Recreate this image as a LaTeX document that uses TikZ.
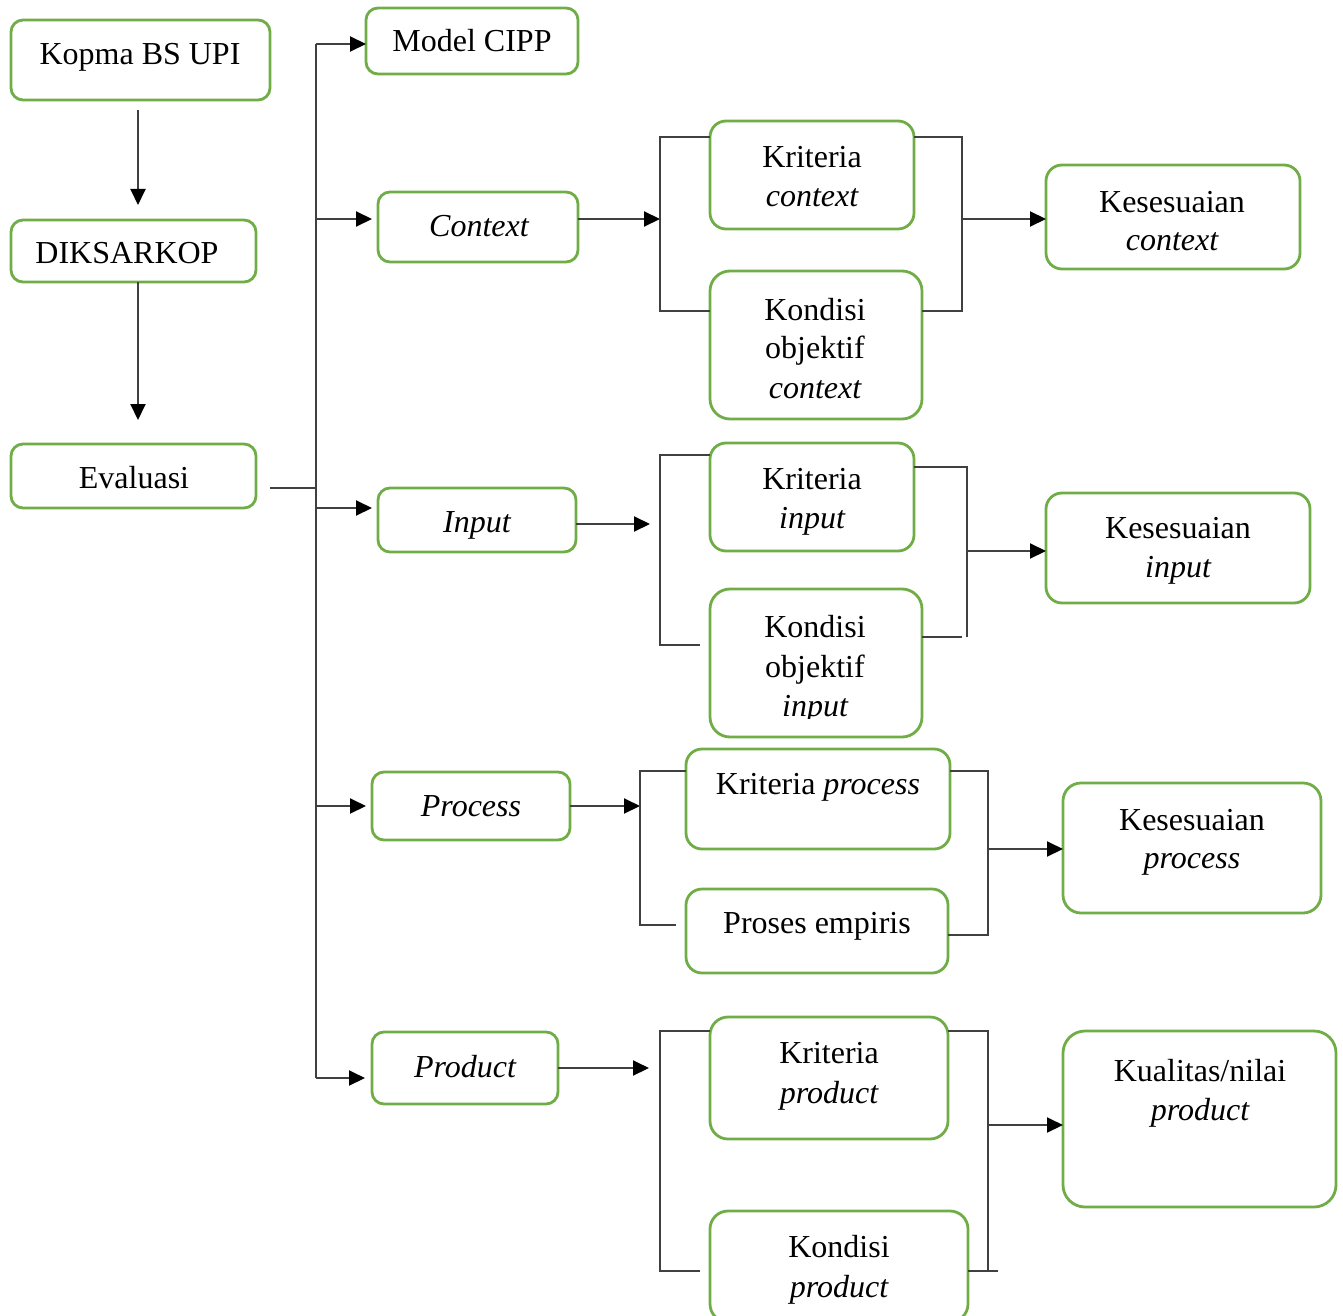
\documentclass[tikz,border=0pt]{standalone}
\usepackage{fontspec}
\setmainfont{Liberation Serif}
\usetikzlibrary{arrows.meta,calc}
\definecolor{grn}{HTML}{70AD47}
\definecolor{lnc}{HTML}{404040}
\begin{document}
\begin{tikzpicture}[x=1pt,y=-1pt,
  bx/.style={draw=grn, fill=white, line width=2.8pt, rounded corners=#1, outer sep=0pt, inner sep=0pt},
  bx/.default=12pt,
  tx/.style={font=\fontsize{32}{39}\selectfont, inner sep=0pt, outer sep=0pt, anchor=base},
  ln/.style={draw=lnc, line width=2pt},
  arr/.style={ln, -{Triangle[length=16pt,width=15pt,color=black]}}]
\useasboundingbox (0,0) rectangle (1343,1316);

% ---------- coordinates for connectors ----------
\coordinate (ax) at (138,0);
\coordinate (tmid) at (316,488);
\coordinate (ttop) at (316,44);
\coordinate (tbot) at (316,1078);
\coordinate (t2) at (316,219);
\coordinate (t3) at (316,508);
\coordinate (t4) at (316,806);
\coordinate (cL1) at (660,137); \coordinate (cL2) at (660,311); \coordinate (cLm) at (660,219);
\coordinate (cR1) at (962,137); \coordinate (cR2) at (962,311); \coordinate (cRm) at (962,219);
\coordinate (iL1) at (660,455); \coordinate (iL2) at (660,645); \coordinate (iLm) at (650,524);
\coordinate (iR1) at (967,467); \coordinate (iR2) at (967,637); \coordinate (iRm) at (967,551);
\coordinate (pL1) at (640,771); \coordinate (pL2) at (640,925); \coordinate (pLm) at (640,806);
\coordinate (pR1) at (988,771); \coordinate (pR2) at (988,935); \coordinate (pRm) at (988,849);
\coordinate (dL1) at (660,1031); \coordinate (dL2) at (660,1271); \coordinate (dLm) at (649,1068);
\coordinate (dR1) at (988,1031); \coordinate (dR2) at (988,1271); \coordinate (dRe) at (998,1271); \coordinate (dRm) at (988,1125);

% ---------- boxes ----------
\node[bx, minimum width=259pt, minimum height=80pt] (kopma) at (140.5,60) {};
\node[bx, minimum width=212pt, minimum height=66pt] (mcipp) at (472,41) {};
\node[bx, minimum width=245pt, minimum height=62pt] (diks) at (133.5,251) {};
\node[bx, minimum width=200pt, minimum height=70pt] (ctx) at (478,227) {};
\node[bx, minimum width=245pt, minimum height=64pt] (eva) at (133.5,476) {};
\node[bx, minimum width=198pt, minimum height=64pt] (inp) at (477,520) {};
\node[bx, minimum width=198pt, minimum height=68pt] (proc) at (471,806) {};
\node[bx, minimum width=186pt, minimum height=72pt] (prod) at (465,1068) {};

\node[bx=16pt, minimum width=204pt, minimum height=108pt] (kc) at (812,175) {};
\node[bx=20pt, minimum width=212pt, minimum height=148pt] (koc) at (816,345) {};
\node[bx=16pt, minimum width=254pt, minimum height=104pt] (kesc) at (1173,217) {};

\node[bx=16pt, minimum width=204pt, minimum height=108pt] (ki) at (812,497) {};
\node[bx=20pt, minimum width=212pt, minimum height=148pt] (koi) at (816,663) {};
\node[bx=16pt, minimum width=264pt, minimum height=110pt] (kesi) at (1178,548) {};

\node[bx=16pt, minimum width=264pt, minimum height=100pt] (kp) at (818,799) {};
\node[bx=16pt, minimum width=262pt, minimum height=84pt] (pe) at (817,931) {};
\node[bx=18pt, minimum width=258pt, minimum height=130pt] (kesp) at (1192,848) {};

\node[bx=18pt, minimum width=238pt, minimum height=122pt] (kpr) at (829,1078) {};
\node[bx=18pt, minimum width=258pt, minimum height=111pt] (kopr) at (839,1266.5) {};
\node[bx=22pt, minimum width=273pt, minimum height=176pt] (kual) at (1199.5,1119) {};

% ---------- connectors ----------
\draw[arr, shorten <=10pt, shorten >=15pt] (kopma.south -| ax) -- (diks.north -| ax);
\draw[arr, shorten >=24pt] (diks.south -| ax) -- (eva.north -| ax);
\draw[ln, shorten <=14pt] (eva.east |- tmid) -- (tmid);
\draw[ln] (ttop) -- (tbot);
\draw[arr] (ttop) -- (ttop -| mcipp.west);
\draw[arr, shorten >=6pt] (t2) -- (t2 -| ctx.west);
\draw[arr, shorten >=6pt] (t3) -- (t3 -| inp.west);
\draw[arr, shorten >=6pt] (t4) -- (t4 -| proc.west);
\draw[arr, shorten >=7pt] (tbot) -- (tbot -| prod.west);

% context
\draw[arr] (ctx.east |- cLm) -- (cLm);
\draw[ln] (kc.west |- cL1) -- (cL1) -- (cL2) -- (koc.west |- cL2);
\draw[ln] (kc.east |- cR1) -- (cR1) -- (cR2) -- (koc.east |- cR2);
\draw[arr] (cRm) -- (cRm -| kesc.west);

% input
\draw[arr] (inp.east |- iLm) -- (iLm);
\draw[ln] (ki.west |- iL1) -- (iL1) -- (iL2) -- ([xshift=-10pt]koi.west |- iL2);
\draw[ln] (ki.east |- iR1) -- (iR1) -- (iR2);
\draw[ln] (koi.east |- iR2) -- ([xshift=-5pt]iR2);
\draw[arr] (iRm) -- (iRm -| kesi.west);

% process
\draw[arr] (proc.east |- pLm) -- (pLm);
\draw[ln] (kp.west |- pL1) -- (pL1) -- (pL2) -- ([xshift=-10pt]pe.west |- pL2);
\draw[ln] (kp.east |- pR1) -- (pR1) -- (pR2) -- (pe.east |- pR2);
\draw[arr] (pRm) -- (pRm -| kesp.west);

% product
\draw[arr] (prod.east |- dLm) -- (dLm);
\draw[ln] (kpr.west |- dL1) -- (dL1) -- (dL2) -- ([xshift=-10pt]kopr.west |- dL2);
\draw[ln] (kpr.east |- dR1) -- (dR1) -- (dR2);
\draw[ln] (kopr.east |- dR2) -- (dRe);
\draw[arr] (dRm) -- (dRm -| kual.west);

% ---------- texts ----------
\node[tx] (kopma-t) at (140,65) {Kopma BS UPI};
\node[tx] (mcipp-t) at (472,52) {Model CIPP};
\node[tx] (diks-t) at (127,263) {DIKSARKOP};
\node[tx] (ctx-t) at (479,236) {\itshape Context};
\node[tx] (eva-t) at (134,488) {Evaluasi};
\node[tx] (inp-t) at (477,532) {\itshape Input};
\node[tx] (proc-t) at (471,816) {\itshape Process};
\node[tx] (prod-t) at (465,1077) {\itshape Product};

\node[tx] (kc-t1) at (812,168) {Kriteria};
\node[tx] (kc-t2) at (812,207) {\itshape context};
\node[tx] (koc-t1) at (815,320) {Kondisi};
\node[tx] (koc-t2) at (815,358) {objektif};
\node[tx] (koc-t3) at (815,398) {\itshape context};
\node[tx] (kesc-t1) at (1172,212) {Kesesuaian};
\node[tx] (kesc-t2) at (1172,250) {\itshape context};

\node[tx] (ki-t1) at (812,489) {Kriteria};
\node[tx] (ki-t2) at (812,528) {\itshape input};
\node[tx] (koi-t1) at (815,637) {Kondisi};
\node[tx] (koi-t2) at (815,677) {objektif};
\begin{scope}
\clip (700,680) rectangle (930,718);
\node[tx] (koi-t3) at (815,716) {\itshape input};
\end{scope}
\node[tx] (kesi-t1) at (1178,538) {Kesesuaian};
\node[tx] (kesi-t2) at (1178,577) {\itshape input};

\node[tx] (kp-t) at (818,794) {Kriteria \itshape process};
\node[tx] (pe-t) at (817,933) {Proses empiris};
\node[tx] (kesp-t1) at (1192,830) {Kesesuaian};
\node[tx] (kesp-t2) at (1192,868) {\itshape process};

\node[tx] (kpr-t1) at (829,1063) {Kriteria};
\node[tx] (kpr-t2) at (829,1103) {\itshape product};
\node[tx] (kopr-t1) at (839,1257) {Kondisi};
\node[tx] (kopr-t2) at (839,1297) {\itshape product};
\node[tx] (kual-t1) at (1200,1081) {Kualitas/nilai};
\node[tx] (kual-t2) at (1200,1120) {\itshape product};
\end{tikzpicture}
\end{document}
